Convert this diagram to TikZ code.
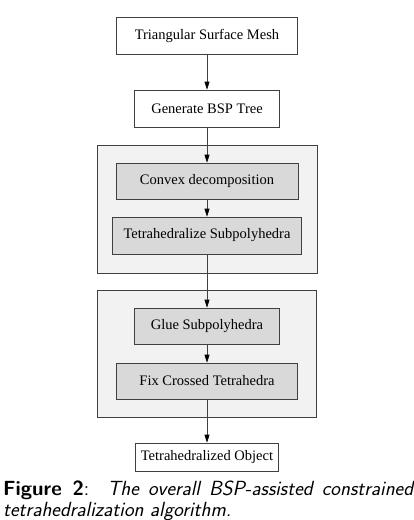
\documentclass[tikz,border=0pt]{standalone}
\usepackage{fontspec}
\setmainfont{Liberation Serif}
\setsansfont{Latin Modern Sans}
\usetikzlibrary{arrows.meta}
\definecolor{panelfill}{HTML}{F2F2F2}
\definecolor{boxfill}{HTML}{D9D9D9}
\definecolor{edge}{HTML}{404040}
\tikzset{
  plainbox/.style={draw=edge, line width=0.7pt, fill=white, inner sep=0pt, font=\fontsize{14.5}{16}\selectfont},
  graybox/.style={plainbox, fill=boxfill},
  panel/.style={draw=edge, line width=0.7pt, fill=panelfill, inner sep=0pt},
  flow/.style={draw=edge, line width=0.7pt, -{Triangle[length=8pt,width=5pt,color=black]}, shorten >=0pt},
}
\begin{document}
\begin{tikzpicture}[x=1pt,y=-1pt]
\useasboundingbox (0,0) rectangle (414,520);
\node[panel, minimum width=220pt, minimum height=128pt] (p1) at (207,209) {};
\node[panel, minimum width=219pt, minimum height=127pt] (p2) at (206.5,353.5) {};
\node[plainbox, minimum width=181pt, minimum height=37pt] (b1) at (207,35.5) {Triangular Surface Mesh};
\node[plainbox, minimum width=145pt, minimum height=37pt] (b2) at (207,108.5) {Generate BSP Tree};
\node[graybox, minimum width=182pt, minimum height=36pt] (b3) at (207,181) {Convex decomposition};
\node[graybox, minimum width=189pt, minimum height=37pt] (b4) at (207,235.5) {Tetrahedralize Subpolyhedra};
\node[graybox, minimum width=145pt, minimum height=36pt] (b5) at (207,326) {Glue Subpolyhedra};
\node[graybox, minimum width=181pt, minimum height=36pt] (b6) at (207,381) {Fix Crossed Tetrahedra};
\node[plainbox, minimum width=143pt, minimum height=28pt] (b7) at (207,457) {Tetrahedralized Object};
\draw[flow] (b1) -- (b2);
\draw[flow] (b2) -- (b3);
\draw[flow] (b3) -- (b4);
\draw[flow] (b4) -- (b5);
\draw[flow] (b5) -- (b6);
\draw[flow] (b6) -- (b7);
\node[anchor=north west, inner sep=0pt, text width=410pt, align=justify,
      font=\sffamily\fontsize{20.5}{21}\selectfont] (cap) at (3,481)
  {\hyphenpenalty=10000\exhyphenpenalty=10000\textbf{Figure 2}:\ \ \textit{The overall BSP-assisted constrained tetrahedralization algorithm.}};
\end{tikzpicture}
\end{document}
